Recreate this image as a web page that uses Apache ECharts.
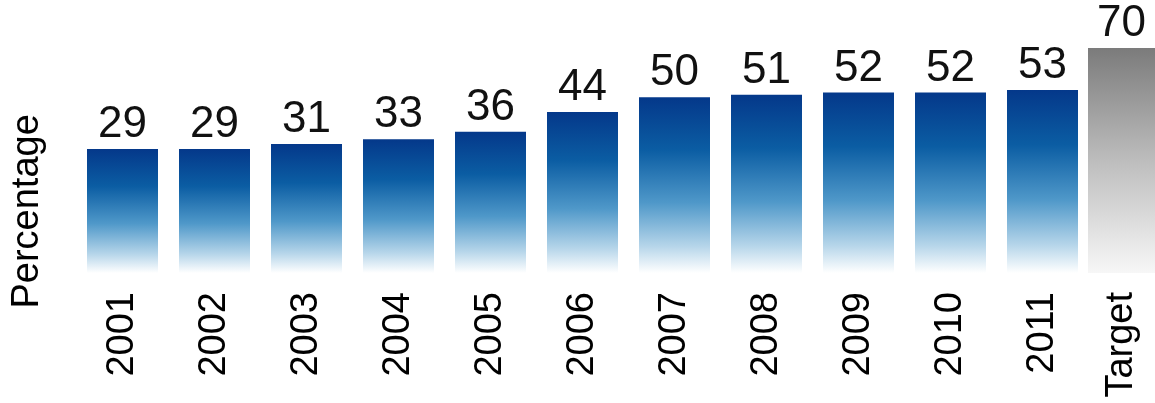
<!DOCTYPE html>
<html>
<head>
<meta charset="utf-8">
<script src="https://cdn.jsdelivr.net/npm/echarts@6/dist/echarts.min.js"></script>
<style>
html,body{margin:0;padding:0;background:#fff;}
#chart{width:1155px;height:403px;}
</style>
</head>
<body>
<div id="chart"></div>
<script>
const yearCategories = ['2001','2002','2003','2004','2005','2006','2007','2008','2009','2010','2011'];
const yearValues = [29, 29, 31, 33, 36, 44, 50, 51, 52, 52, 53];
const targetCategories = ['Target'];
const targetValues = [70];
const yAxisName = 'Percentage';

const font = 'Liberation Sans, Arial, sans-serif';
const yMin = -21.4, yMax = 75;

const chart = echarts.init(document.getElementById('chart'), null, {renderer: 'canvas'});
const gridCommon = {top: 35.8, height: 237.2, containLabel: false};
const yCommon = {
  type: 'value', min: yMin, max: yMax, startValue: yMin,
  axisLine: {show: false}, axisTick: {show: false}, axisLabel: {show: false}, splitLine: {show: false}
};
const xLabel = {rotate: 90, margin: 19, fontSize: 38, color: '#000', fontFamily: font, interval: 0};
const valueLabel = {show: true, position: 'top', distance: 2, fontSize: 44, color: '#111', fontFamily: font};
chart.setOption({
  animation: false,
  backgroundColor: '#ffffff',
  grid: [
    Object.assign({left: 76.5, width: 1012}, gridCommon),
    Object.assign({left: 1088, width: 71}, gridCommon)
  ],
  xAxis: [
    {gridIndex: 0, type: 'category', data: yearCategories, axisLine: {show: false}, axisTick: {show: false}, axisLabel: xLabel},
    {gridIndex: 1, type: 'category', data: targetCategories, axisLine: {show: false}, axisTick: {show: false}, axisLabel: xLabel}
  ],
  yAxis: [
    Object.assign({gridIndex: 0, name: yAxisName, nameLocation: 'middle', nameRotate: 90, nameGap: 30,
      nameTextStyle: {fontSize: 38, color: '#000', fontFamily: font, padding: [0, 114, 0, 0]}}, yCommon),
    Object.assign({gridIndex: 1}, yCommon)
  ],
  series: [
    {
      type: 'bar', xAxisIndex: 0, yAxisIndex: 0, data: yearValues, barWidth: 71,
      itemStyle: {color: new echarts.graphic.LinearGradient(0, 0, 0, 1, [
        {offset: 0, color: '#04388a'},
        {offset: 0.3, color: '#0b5da3'},
        {offset: 0.6, color: '#4f98c9'},
        {offset: 0.85, color: '#b7d6ea'},
        {offset: 1, color: '#ffffff'}
      ])},
      label: valueLabel
    },
    {
      type: 'bar', xAxisIndex: 1, yAxisIndex: 1, data: targetValues, barWidth: 71,
      itemStyle: {color: new echarts.graphic.LinearGradient(0, 0, 0, 1, [
        {offset: 0, color: '#7b7b7b'},
        {offset: 0.5, color: '#bdbdbd'},
        {offset: 1, color: '#f7f7f7'}
      ])},
      label: valueLabel
    }
  ]
});
</script>
</body>
</html>
